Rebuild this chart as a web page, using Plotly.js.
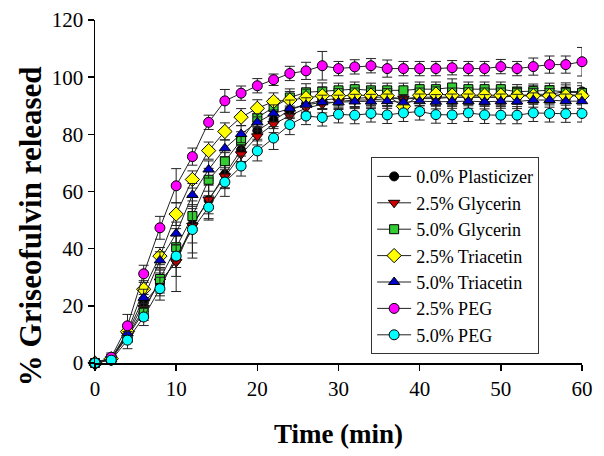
<!DOCTYPE html>
<html>
<head>
<meta charset="utf-8">
<script src="https://cdn.plot.ly/plotly-3.0.1.min.js"></script>
<style>html,body{margin:0;padding:0;background:#fff;}#chart{width:604px;height:456px;}</style>
</head>
<body>
<div id="chart"></div>
<script>
const timeMin = [0,2,4,6,8,10,12,14,16,18,20,22,24,26,28,30,32,34,36,38,40,42,44,46,48,50,52,54,56,58,60];

const seriesNames = ["0.0% Plasticizer","2.5% Glycerin","5.0% Glycerin","2.5% Triacetin","5.0% Triacetin","2.5% PEG","5.0% PEG"];

const plasticizer0 = [0,1.5,9.8,21,27.5,36,48.5,57,66,74.5,81.3,85,88.5,90.5,92,92.5,92.5,93,93,92.5,93,93,93,93,93,93,93.5,94,94,95,95];
const glycerin25   = [0,1.3,9.5,19.2,28.5,35.3,48,57.2,65.3,73,79.3,83.6,86.5,89.2,90.5,91.5,92,92,92.5,92.5,92.5,92.5,93,93,93,93,93.5,93.5,93.5,94,93.5];
const glycerin50   = [0,1.5,9.2,17.9,29.4,40.5,51.4,64.1,70.6,77.9,85.8,89.5,92.9,94.7,95,95.4,95.8,95.4,95.4,95.4,95.8,95.8,96.4,95.8,95.8,95.8,94.9,95.1,95.4,94.8,94.5];
const triacetin25  = [0,1.5,11,25.8,37.4,52.1,64.2,74.3,81,86,89.1,91.5,92,92.8,93.5,93.5,93.7,93.7,93.5,89.8,93.7,94.1,93.7,93.8,93.7,93.7,93.5,93.5,93.5,93.5,93.5];
const triacetin50  = [0,1.5,10.4,22.8,35.9,45.3,58.8,67.7,75.1,80.1,84.2,87.3,89,90.3,91.2,91.2,91.5,91.5,91.6,91.2,91.6,91.4,91.6,91.6,91.4,91.6,91.5,92,92,91.6,91.6];
const peg25        = [0,2,13,31.2,47.3,62,72.2,84.2,91.7,94.4,97,99.1,101.3,102.2,104,103,103.6,104,103,103,103,103,103.3,103,103,103.7,103,103.7,104.4,104.4,105.4];
const peg50        = [0,1,8,16.1,26,37.4,46.7,54.5,63.3,68.9,74.2,78.7,83.4,86.4,85.9,87,86.7,87.3,86.8,87.5,88,86.9,86.8,87.5,86.8,86.7,86.7,87.5,87.3,87.2,87.3];

const err0   = [0,1,2,3,4,11,10,7,5,4,3,3,3,3,3,3,3,3,3,3,3,3,3,3,3,3,3,3,3,3,3];
const errG25 = [0,1,2,3,4,5,6,5,4,3,3,3,3,3,3,2.5,2.5,2.5,2.5,2.5,2.5,2.5,2.5,2.5,2.5,2.5,2.5,2.5,2.5,2.5,2.5];
const errG50 = [0,1,2,3,4,4,4,4,3,3,3,3,3,3,3,2.5,2.5,2.5,2.5,2.5,2.5,2.5,3,2.5,2.5,2.5,2.5,2.5,2.5,2.5,2.5];
const errT25 = [0,1,2,3,3,4,3,3,3,3,3,3,3,3,3,2.5,2.5,2.5,2.5,2.5,2.5,2.5,2.5,2.5,2.5,2.5,2.5,2.5,2.5,2.5,2.5];
const errT50 = [0,1,2,3,3,4,4,3,3,3,3,3,3,2.5,2.5,2.5,2.5,2.5,2.5,2.5,2.5,2.5,2.5,2.5,2.5,2.5,2.5,2.5,2.5,2.5,2.5];
const errP25 = [0,1.5,4,3,4,6,3,2.5,4,2.5,2.5,2,2.5,3,5,2.5,2.5,2.5,3,2.5,2.5,2.5,2.5,2.5,2.5,2.5,2.5,3,3,3,5];
const errP50 = [0,1,3,3,4,4,10,4,5,3.5,3.5,4,3.5,3,3,3,3,3,3,3,3,3,3,3,3,3,3,3,3,3,3];

const values = [plasticizer0, glycerin25, glycerin50, triacetin25, triacetin50, peg25, peg50];
const errors = [err0, errG25, errG50, errT25, errT50, errP25, errP50];
const colors = ["#000000","#cc0000","#33cc33","#ffff00","#0000cc","#ff00ff","#00ffff"];
const symbols = ["circle","triangle-down","square","diamond","triangle-up","circle","circle"];
const sizes = [9,10,9,11,10,10,10];

const traces = values.map((v, i) => ({
  x: timeMin,
  y: v,
  name: seriesNames[i],
  type: "scatter",
  mode: "lines+markers",
  cliponaxis: false,
  line: {color: "#222", width: 1},
  marker: {symbol: symbols[i], size: sizes[i], color: colors[i], line: {color: "#000", width: 1}},
  error_y: {type: "data", array: errors[i], visible: true, color: "#222", thickness: 1, width: 5}
}));

const layout = {
  width: 604, height: 456,
  margin: {l: 95, r: 22, t: 20, b: 93},
  paper_bgcolor: "#fff", plot_bgcolor: "#fff",
  font: {family: "Liberation Serif, Times New Roman, serif", color: "#000"},
  showlegend: true,
  legend: {
    x: 0.567, y: 0.60, xanchor: "left", yanchor: "top",
    bordercolor: "#333", borderwidth: 1, bgcolor: "#fff",
    font: {size: 18, family: "Liberation Serif, serif"},
    itemwidth: 34,
    tracegroupgap: 0
  },
  xaxis: {
    range: [0, 60], dtick: 10, tick0: 0,
    showgrid: false, zeroline: false,
    showline: true, linecolor: "#000", linewidth: 1.5,
    ticks: "outside", ticklen: 6, tickwidth: 1.5, tickcolor: "#000",
    tickfont: {size: 21},
    title: {text: "<b>Time (min)</b>", font: {size: 27}, standoff: 24}
  },
  yaxis: {
    range: [0, 120], dtick: 20, tick0: 0,
    showgrid: false, zeroline: false,
    showline: true, linecolor: "#000", linewidth: 1.5,
    ticks: "outside", ticklen: 6, tickwidth: 1.5, tickcolor: "#000",
    tickfont: {size: 21}
  },
  annotations: [{
    text: "<b>% Griseofulvin released</b>",
    xref: "paper", yref: "paper",
    x: -0.1335, y: 0.399,
    xanchor: "center", yanchor: "middle",
    textangle: -90, showarrow: false,
    font: {size: 31, family: "Liberation Serif, serif", color: "#000"}
  }]
};

Plotly.newPlot("chart", traces, layout, {displayModeBar: false, staticPlot: true});
</script>
</body>
</html>
